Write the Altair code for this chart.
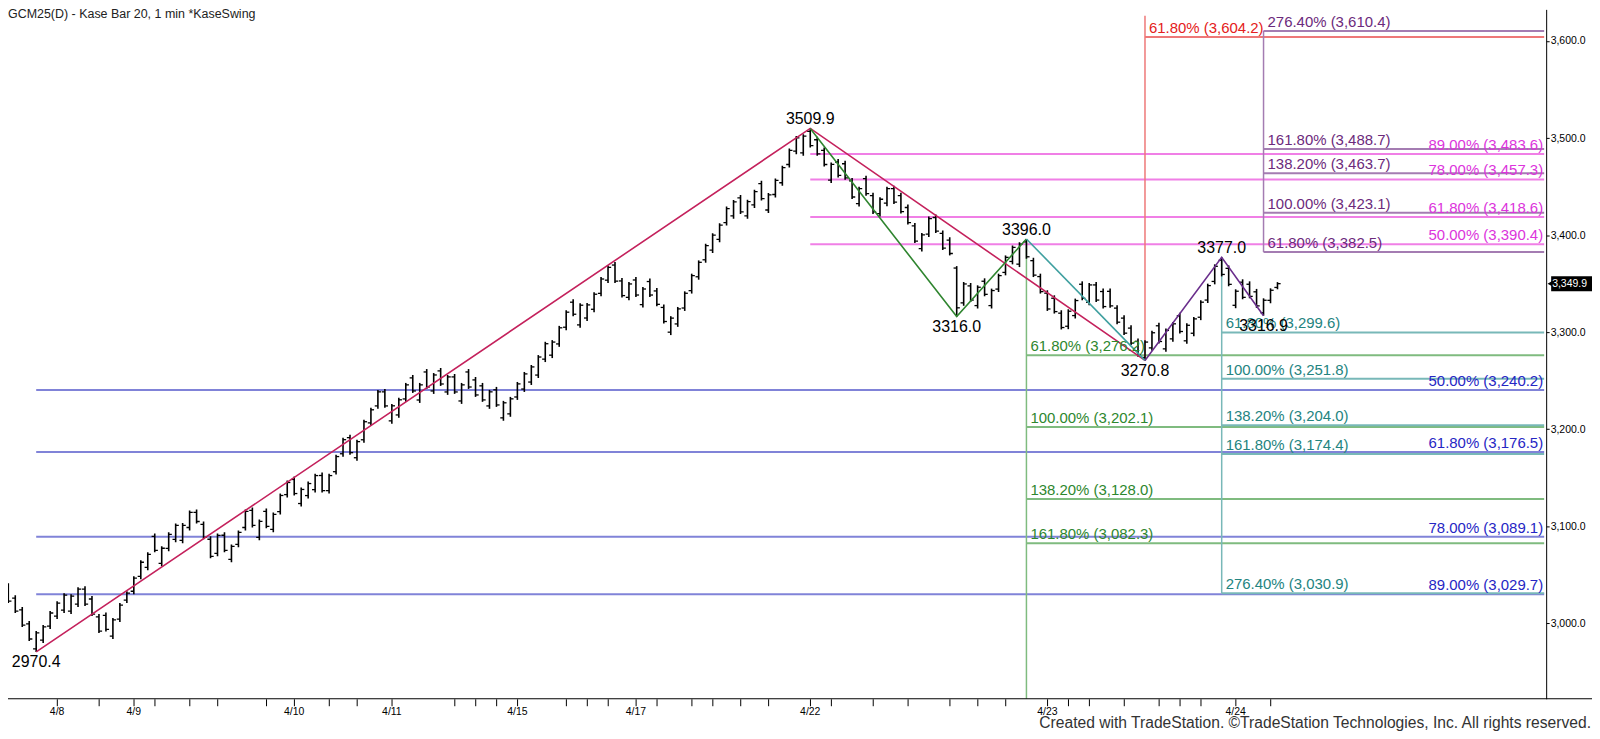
import altair as alt
import pandas as pd

TITLE = "GCM25(D) - Kase Bar 20, 1 min  *KaseSwing"
FOOTER = "Created with TradeStation. \u00a9TradeStation Technologies, Inc. All rights reserved."

bar_high = [3056.6,3041.2,3028.9,3016.6,3002.2,2991.9,2998.1,3012.5,3022.7,3030.9,3029.9,3037.1,3038.1,3027.9,3009.4,3011.0,3005.3,3020.7,3033.0,3048.4,
            3064.8,3073.0,3092.5,3079.2,3093.6,3102.8,3103.3,3116.2,3117.2,3104.9,3089.5,3092.5,3093.6,3081.2,3095.6,3117.2,3119.2,3106.9,3118.2,3114.1,
            3133.6,3147.0,3151.1,3139.8,3145.9,3154.1,3155.2,3154.1,3173.7,3191.1,3194.2,3189.1,3209.6,3221.9,3240.4,3241.4,3226.0,3232.2,3247.6,3255.8,
            3247.6,3261.9,3257.8,3263.0,3255.8,3256.8,3247.6,3261.9,3253.7,3247.6,3240.4,3243.5,3229.1,3233.2,3248.6,3258.9,3266.1,3276.3,3290.0,3291.7,
            3306.4,3322.5,3333.8,3329.7,3330.0,3341.0,3356.7,3368.7,3372.1,3355.7,3351.6,3356.7,3346.4,3355.1,3345.4,3328.4,3316.4,3325.9,3342.0,3360.2,
            3373.9,3391.0,3401.9,3412.2,3429.3,3436.2,3441.3,3436.5,3446.8,3456.0,3443.4,3458.4,3471.4,3489.2,3502.2,3503.9,3509.9,3501.2,3490.2,3474.8,
            3478.3,3476.5,3458.8,3449.8,3461.1,3443.7,3438.9,3449.8,3450.9,3443.7,3431.4,3412.4,3402.1,3419.0,3421.1,3404.7,3397.8,3368.0,3351.6,3350.6,
            3348.2,3355.4,3344.8,3360.2,3379.0,3389.3,3392.6,3396.0,3376.6,3360.2,3343.1,3337.9,3322.5,3323.5,3334.5,3352.3,3350.6,3351.6,3344.8,3345.0,
            3327.7,3317.4,3307.1,3293.5,3291.7,3301.3,3309.5,3303.7,3310.5,3319.8,3309.0,3315.6,3332.8,3349.9,3369.8,3377.0,3368.7,3344.1,3354.4,3352.3,
            3344.5,3334.8,3345.1,3351.5]
bar_low = [3038.1,3020.7,3010.4,2996.0,2981.7,2970.4,2979.6,2994.0,3004.2,3010.4,3009.4,3016.6,3017.6,3007.3,2989.9,2991.5,2983.7,3001.2,3020.7,3029.9,
           3045.3,3054.6,3073.0,3058.7,3074.1,3083.3,3082.3,3095.6,3102.8,3086.4,3066.9,3068.9,3073.0,3062.8,3078.2,3095.6,3098.7,3085.4,3097.7,3093.6,
           3112.0,3129.5,3131.6,3120.3,3128.5,3134.6,3134.6,3133.6,3153.1,3171.6,3173.7,3167.5,3186.0,3203.4,3220.9,3221.9,3205.5,3211.6,3228.1,3237.3,
           3227.0,3241.4,3236.3,3244.5,3235.3,3236.3,3226.0,3241.4,3233.2,3228.1,3220.9,3222.9,3208.6,3212.7,3230.1,3238.3,3245.5,3252.7,3269.1,3273.2,
           3284.8,3302.0,3316.4,3304.4,3311.5,3320.5,3336.9,3350.5,3350.5,3335.6,3332.8,3336.2,3325.3,3336.2,3326.6,3308.9,3296.9,3305.4,3321.8,3339.7,
           3354.0,3371.5,3381.4,3392.6,3409.8,3416.7,3421.8,3416.7,3428.0,3435.5,3422.8,3438.8,3450.9,3469.7,3483.4,3481.7,3490.2,3481.7,3470.7,3453.6,
           3459.4,3457.0,3437.2,3429.3,3440.6,3421.8,3419.0,3429.8,3431.9,3422.1,3410.8,3391.8,3383.1,3398.0,3402.1,3384.6,3379.0,3316.0,3327.1,3331.0,
           3324.3,3336.9,3324.3,3341.3,3358.5,3369.8,3367.0,3375.6,3356.7,3339.7,3321.8,3319.1,3302.7,3303.0,3314.0,3332.8,3327.7,3331.0,3324.3,3325.0,
           3308.2,3296.9,3286.6,3274.6,3270.8,3280.7,3288.3,3279.7,3290.0,3298.6,3288.0,3295.8,3312.3,3330.0,3349.2,3357.4,3347.2,3324.6,3333.8,3334.8,
           3325.0,3316.9,3329.7,3344.1]
bar_open = [3053.6,3038.2,3025.9,3013.6,2999.2,2973.4,2982.6,2997.0,3007.2,3013.4,3012.4,3019.6,3035.1,3024.9,3006.4,3008.0,2986.7,3004.2,3023.7,3032.9,
            3048.3,3057.6,3089.5,3061.7,3077.1,3086.3,3085.3,3098.6,3114.2,3101.9,3086.5,3071.9,3090.6,3065.8,3081.2,3098.6,3116.2,3088.4,3115.2,3096.6,
            3115.0,3132.5,3148.1,3123.3,3131.5,3137.6,3152.2,3136.6,3156.1,3174.6,3191.2,3170.5,3189.0,3206.4,3223.9,3238.4,3208.5,3214.6,3231.1,3252.8,
            3230.0,3258.9,3239.3,3260.0,3238.3,3253.8,3229.0,3258.9,3250.7,3244.6,3223.9,3240.5,3211.6,3215.7,3233.1,3241.3,3248.5,3255.7,3272.1,3276.2,
            3287.8,3305.0,3330.8,3307.4,3314.5,3323.5,3339.9,3353.5,3369.1,3352.7,3335.8,3353.7,3328.3,3352.1,3342.4,3325.4,3299.9,3308.4,3324.8,3342.7,
            3357.0,3374.5,3384.4,3395.6,3412.8,3419.7,3438.3,3419.7,3431.0,3453.0,3425.8,3441.8,3453.9,3472.7,3486.4,3484.7,3506.9,3498.2,3487.2,3456.6,
            3475.3,3473.5,3455.8,3432.3,3458.1,3440.7,3422.0,3432.8,3447.9,3440.7,3428.4,3409.4,3386.1,3401.0,3418.1,3401.7,3394.8,3366.0,3330.1,3347.6,
            3327.3,3352.4,3327.3,3344.3,3361.5,3372.8,3370.0,3393.0,3373.6,3357.2,3340.1,3334.9,3319.5,3306.0,3317.0,3349.3,3330.7,3348.6,3341.8,3342.0,
            3324.7,3314.4,3304.1,3290.5,3273.8,3283.7,3306.5,3282.7,3293.0,3316.8,3291.0,3298.8,3315.3,3333.0,3352.2,3374.0,3365.7,3327.6,3351.4,3349.3,
            3341.5,3319.9,3332.7,3346.0]
bar_close = [3040.1,3022.7,3012.4,2998.0,2983.7,2989.9,2996.1,3010.5,3020.7,3028.9,3027.9,3035.1,3019.6,3009.3,2991.9,2993.5,3003.3,3018.7,3031.0,3046.4,
             3062.8,3071.0,3075.0,3077.2,3091.6,3100.8,3100.8,3114.2,3104.8,3088.4,3068.9,3090.5,3075.0,3079.2,3093.6,3115.2,3100.7,3104.9,3099.7,3112.1,
             3131.6,3145.0,3133.6,3137.8,3143.9,3152.1,3136.6,3152.1,3171.7,3189.1,3175.7,3187.1,3207.6,3219.9,3238.4,3223.9,3224.0,3230.2,3245.6,3239.3,
             3245.6,3243.4,3255.8,3246.5,3253.8,3238.3,3245.6,3243.4,3235.2,3230.1,3238.4,3224.9,3227.1,3231.2,3246.6,3256.9,3264.1,3274.3,3288.0,3289.7,
             3304.4,3320.5,3318.4,3327.7,3328.0,3339.0,3354.7,3366.7,3352.5,3337.6,3349.6,3338.2,3344.4,3338.2,3328.6,3310.9,3314.4,3323.9,3340.0,3358.2,
             3371.9,3389.0,3399.9,3410.2,3427.3,3434.2,3423.8,3434.5,3444.8,3437.5,3441.4,3456.4,3469.4,3487.2,3500.2,3501.9,3492.2,3483.7,3472.7,3472.8,
             3461.4,3459.0,3439.2,3447.8,3442.6,3423.8,3436.9,3447.8,3433.9,3424.1,3412.8,3393.8,3400.1,3417.0,3404.1,3386.6,3381.0,3325.0,3349.6,3333.0,
             3346.2,3338.9,3342.8,3358.2,3377.0,3387.3,3390.6,3377.6,3358.7,3341.7,3323.8,3321.1,3304.7,3321.5,3332.5,3334.8,3348.6,3333.0,3326.3,3327.0,
             3310.2,3298.9,3288.6,3276.6,3289.7,3299.3,3290.3,3301.7,3308.5,3300.6,3307.0,3313.6,3330.8,3347.9,3367.8,3359.4,3349.2,3342.1,3335.8,3336.8,
             3327.0,3332.8,3343.1,3349.9]

date_tick_idx = [8,14,19,22,27,31,38,42,47,51,56,65,68,71,74,81,84,87,91,94,99,102,106,110,116,119,125,130,136,140,144,150,153,156,161,166,169,172,177,182]
date_label_idx = [8,19,42,56,74,91,116,150,177]
date_labels = ["4/8","4/9","4/10","4/11","4/15","4/17","4/22","4/23","4/24"]
price_ticks = [3000, 3100, 3200, 3300, 3400, 3500, 3600]

swing_idx = [5,116,137,147,164,175,181]
swing_val = [2970.4,3509.9,3316.0,3396.0,3270.8,3377.0,3316.9]
swing_side = ["below","above","below","above","below","above","below"]

zig_series = ["a","a","a","b","b","b","c","c","d","d","d"]
zig_idx = [5,116,164,116,137,147,147,164,164,175,181]
zig_val = [2970.4,3509.9,3270.8,3509.9,3316.0,3396.0,3396.0,3270.8,3270.8,3377.0,3316.9]
zig_colors = {"a":"#c4215c","b":"#2f852f","c":"#3fa0a0","d":"#6a2e8c"}

fib_sets = [
    # name, start idx, pcts, levels, line color, text color, label side
    ("blue", 5, [50.00,61.80,78.00,89.00], [3240.2,3176.5,3089.1,3029.7], "#8083d8", "#2626c4", "right"),
    ("magenta", 116, [50.00,61.80,78.00,89.00], [3390.4,3418.6,3457.3,3483.6], "#f07fe6", "#dc34dc", "right"),
    ("purple", 181, [61.80,100.00,138.20,161.80,276.40], [3382.5,3423.1,3463.7,3488.7,3610.4], "#a47cb2", "#6c2a7c", "left"),
    ("red", 164, [61.80], [3604.2], "#ee7878", "#e42020", "left"),
    ("green", 147, [61.80,100.00,138.20,161.80], [3276.2,3202.1,3128.0,3082.3], "#7fbb7f", "#2e872e", "left"),
    ("teal", 175, [61.80,100.00,138.20,161.80,276.40], [3299.6,3251.8,3204.0,3174.4,3030.9], "#78b8b8", "#24847f", "left"),
]
fib_end_idx = 221.24

vert_idx = [164, 181, 147, 175]
vert_from = [3270.8, 3382.5, 3396.0, 3377.0]
vert_to = [3626.0, 3610.4, 2922.1, 3030.9]
vert_color = ["#ee7878", "#a47cb2", "#7fbb7f", "#78b8b8"]

last_price = 3349.9

# ---------------- data frames ----------------
bars = pd.DataFrame({"idx": list(range(len(bar_high))), "high": bar_high, "low": bar_low,
                     "open": bar_open, "close": bar_close})
rows = []
for name, s, pcts, lv, lc, tc, side in fib_sets:
    for p, v in zip(pcts, lv):
        rows.append({"x0": s, "x1": fib_end_idx, "level": v, "lc": lc, "tc": tc, "side": side,
                     "label": f"{p:.2f}% ({v:,.1f})"})
fib = pd.DataFrame(rows)
verts = pd.DataFrame({"x": vert_idx, "y0": vert_from, "y1": vert_to, "c": vert_color})
zig = pd.DataFrame({"s": zig_series, "idx": zig_idx, "val": zig_val,
                    "c": [zig_colors[s] for s in zig_series], "o": list(range(len(zig_idx)))})
sw = pd.DataFrame({"idx": swing_idx, "val": swing_val, "side": swing_side,
                   "label": [f"{v:.1f}" for v in swing_val]})
dl = pd.DataFrame({"idx": date_label_idx, "label": date_labels})
lp = pd.DataFrame({"price": [last_price], "label": [f"{last_price:,.1f}"]})
misc = pd.DataFrame({"t": [TITLE], "f": [FOOTER]})

W, H = 1544, 692
xs = alt.Scale(domain=[0.957, 221.53], nice=False, zero=False)
ys = alt.Scale(domain=[2922.1, 3632.6], nice=False, zero=False)
FONT = "Liberation Sans, Arial, sans-serif"

x_axis = alt.Axis(values=date_tick_idx, labels=False, domain=False, ticks=True, tickSize=7,
                  tickColor="black", tickWidth=1, grid=False, title=None)
y_axis = alt.Axis(orient="right", values=price_ticks, format=",.1f", tickSize=3, labelPadding=1,
                  labelFontSize=10.5, labelFont=FONT, labelColor="black", domain=True,
                  domainColor="black", domainWidth=1, tickColor="black", grid=False, title=None)

def X(f):
    return alt.X(f, scale=xs, axis=x_axis)

def Y(f):
    return alt.Y(f, scale=ys, axis=y_axis)

fib_lines = alt.Chart(fib).mark_rule(strokeWidth=2).encode(
    x=X("x0:Q"), x2="x1:Q", y=Y("level:Q"), color=alt.Color("lc:N", scale=None))
vert_lines = alt.Chart(verts).mark_rule(strokeWidth=1.5).encode(
    x=X("x:Q"), y=Y("y0:Q"), y2="y1:Q", color=alt.Color("c:N", scale=None))

hl = alt.Chart(bars).mark_rule(color="black", strokeWidth=1.6, clip=True).encode(
    x=X("idx:Q"), y=Y("low:Q"), y2="high:Q")
open_t = alt.Chart(bars).transform_calculate(xl="datum.idx - 0.45").mark_rule(
    color="black", strokeWidth=1.3, clip=True).encode(x=X("xl:Q"), x2="idx:Q", y=Y("open:Q"))
close_t = alt.Chart(bars).transform_calculate(xr="datum.idx + 0.45").mark_rule(
    color="black", strokeWidth=1.3, clip=True).encode(x=X("idx:Q"), x2="xr:Q", y=Y("close:Q"))

zz = alt.Chart(zig).mark_line(strokeWidth=1.6).encode(
    x=X("idx:Q"), y=Y("val:Q"), detail="s:N", order="o:Q", color=alt.Color("c:N", scale=None))

fib_lab_left = alt.Chart(fib).transform_filter("datum.side == 'left'").mark_text(
    align="left", baseline="alphabetic", dx=4, dy=-4, fontSize=15, font=FONT).encode(
    x=X("x0:Q"), y=Y("level:Q"), text="label:N", color=alt.Color("tc:N", scale=None))
fib_lab_right = alt.Chart(fib).transform_filter("datum.side == 'right'").mark_text(
    align="right", baseline="alphabetic", dx=-1, dy=-4, fontSize=15, font=FONT).encode(
    x=X("x1:Q"), y=Y("level:Q"), text="label:N", color=alt.Color("tc:N", scale=None))

sw_above = alt.Chart(sw).transform_filter("datum.side == 'above'").mark_text(
    align="center", baseline="alphabetic", dy=-4, fontSize=16, font=FONT, color="black").encode(
    x=X("idx:Q"), y=Y("val:Q"), text="label:N")
sw_below = alt.Chart(sw).transform_filter("datum.side == 'below'").mark_text(
    align="center", baseline="alphabetic", dy=15.5, fontSize=16, font=FONT, color="black").encode(
    x=X("idx:Q"), y=Y("val:Q"), text="label:N")

bottom_line = alt.Chart(misc).mark_rule(color="black", strokeWidth=1).encode(
    x=alt.value(0), x2=alt.value(1590), y=alt.value(H))
date_text = alt.Chart(dl).mark_text(baseline="middle", align="center", fontSize=10.5, font=FONT,
                                    color="black").encode(x=X("idx:Q"), y=alt.value(705), text="label:N")

box = alt.Chart(lp).mark_rule(color="black", strokeWidth=15).encode(
    x=alt.value(1549), x2=alt.value(1591), y=Y("price:Q"))
box_tip = alt.Chart(lp).mark_point(shape="triangle-left", filled=True, color="black", size=70, opacity=1).encode(
    x=alt.value(1549), y=Y("price:Q"))
box_text = alt.Chart(lp).mark_text(align="left", baseline="middle", fontSize=10.5, font=FONT,
                                   color="white").encode(x=alt.value(1550), y=Y("price:Q"), text="label:N")

title_t = alt.Chart(misc).mark_text(align="left", baseline="middle", fontSize=12.5, font=FONT,
                                    color="#222222").encode(x=alt.value(0), y=alt.value(5), text="t:N")
footer_t = alt.Chart(misc).mark_text(align="right", baseline="alphabetic", fontSize=15.7, font=FONT,
                                     color="#333333").encode(x=alt.value(1589), y=alt.value(721), text="f:N")

chart = alt.layer(
    fib_lines, vert_lines, hl, open_t, close_t, zz, fib_lab_left, fib_lab_right,
    sw_above, sw_below, bottom_line, date_text, box, box_tip, box_text, title_t, footer_t
).properties(
    width=W, height=H,
    padding={"left": 0, "top": 0, "right": 46, "bottom": 31},
    autosize=alt.AutoSizeParams(type="none"),
    background="white",
).configure_view(stroke=None)

chart.save("out.html", embed_options={"renderer": "svg", "actions": False})
